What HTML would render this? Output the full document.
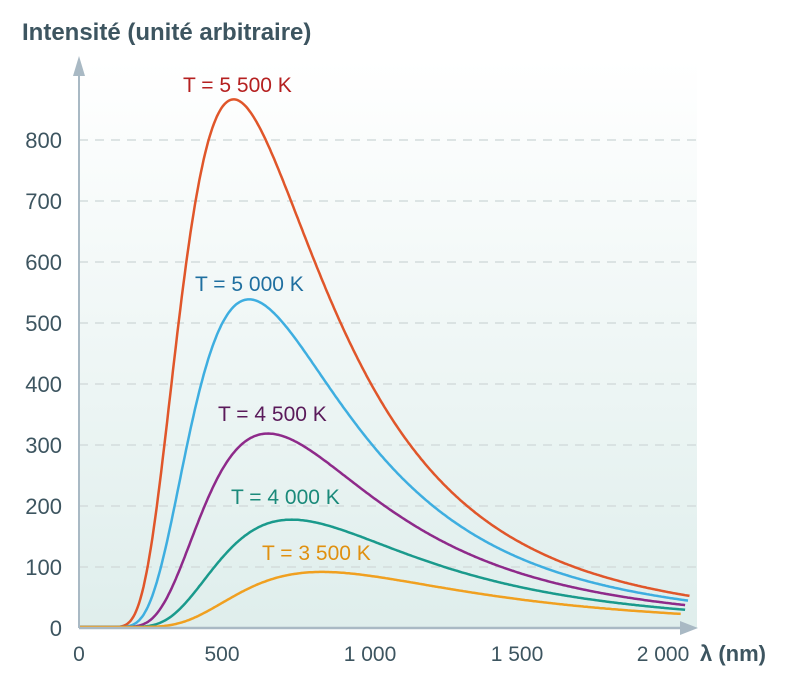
<!DOCTYPE html>
<html><head><meta charset="utf-8"><style>
body{margin:0;background:#fff;}
svg{display:block;font-family:"Liberation Sans",sans-serif;}
</style></head><body>
<svg id="s" width="791" height="677" viewBox="0 0 791 677" xmlns="http://www.w3.org/2000/svg">
<defs><linearGradient id="g" x1="0" y1="0" x2="0" y2="1">
<stop offset="0" stop-color="#ffffff"/><stop offset="1" stop-color="#dfeeec"/></linearGradient></defs>
<rect x="79" y="60" width="618" height="568" fill="url(#g)"/>
<g stroke="#d3dcdc" stroke-width="1.5" stroke-dasharray="9,7">
<line x1="79" x2="697" y1="140" y2="140"/><line x1="79" x2="697" y1="201" y2="201"/>
<line x1="79" x2="697" y1="262" y2="262"/><line x1="79" x2="697" y1="323" y2="323"/>
<line x1="79" x2="697" y1="384" y2="384"/><line x1="79" x2="697" y1="445" y2="445"/>
<line x1="79" x2="697" y1="506" y2="506"/><line x1="79" x2="697" y1="567" y2="567"/>
</g>
<text x="22" y="40" font-size="24" font-weight="bold" fill="#3d5560">Intensité (unité arbitraire)</text>
<g font-size="22" fill="#3d5560" text-anchor="end">
<text x="62" y="148">800</text><text x="62" y="209">700</text><text x="62" y="270">600</text>
<text x="62" y="331">500</text><text x="62" y="392">400</text><text x="62" y="453">300</text>
<text x="62" y="514">200</text><text x="62" y="575">100</text><text x="62" y="636">0</text>
</g>
<g font-size="21" fill="#3d5560" text-anchor="middle">
<text x="79" y="661">0</text><text x="222" y="661">500</text><text x="370" y="661">1 000</text>
<text x="517" y="661">1 500</text><text x="663" y="661">2 000</text>
</g>
<text x="700" y="661" font-size="22" font-weight="bold" fill="#3d5560">λ (nm)</text>
<g id="curves" fill="none" stroke-width="2.5"></g>
<line x1="79" y1="628" x2="79" y2="70" stroke="#a9b9c4" stroke-width="2"/>
<polygon points="73,76 85,76 79,56" fill="#a9b9c4"/>
<line x1="79" y1="628" x2="685" y2="628" stroke="#a9b9c4" stroke-width="2.5"/>
<polygon points="680,621 680,635 698,628" fill="#a9b9c4"/>
<g font-size="21">
<text x="183" y="92" fill="#b52020">T = 5 500 K</text>
<text x="195" y="291" fill="#1f6fa0">T = 5 000 K</text>
<text x="218" y="421" fill="#5a1a5a">T = 4 500 K</text>
<text x="231" y="504" fill="#1a8a7a">T = 4 000 K</text>
<text x="262" y="560" fill="#e09010">T = 3 500 K</text>
</g>
</svg>
<script>
var c2=1.4388e7;
function B(l,T){return Math.pow(l,-5)/(Math.exp(c2/(l*T))-1);}
var norm=865/B(527,5500);
var cs=[[5500,"#e0562a",2080],[5000,"#3eaee0",2075],[4500,"#8e2a8a",2065],[4000,"#1a9a8c",2065],[3500,"#f0a020",2050]];
var g=document.getElementById("curves");
cs.forEach(function(c){
 var d="";
 for(var l=0;l<=c[2];l+=5){
  var v=l<20?0:B(l,c[0])*norm;
  var x=79+l*0.2935, y=627-v*0.61;
  d+=(l==0?"M":"L")+x.toFixed(1)+","+y.toFixed(1);
 }
 var p=document.createElementNS("http://www.w3.org/2000/svg","path");
 p.setAttribute("d",d);p.setAttribute("stroke",c[1]);g.appendChild(p);
});
</script>
</body></html>
